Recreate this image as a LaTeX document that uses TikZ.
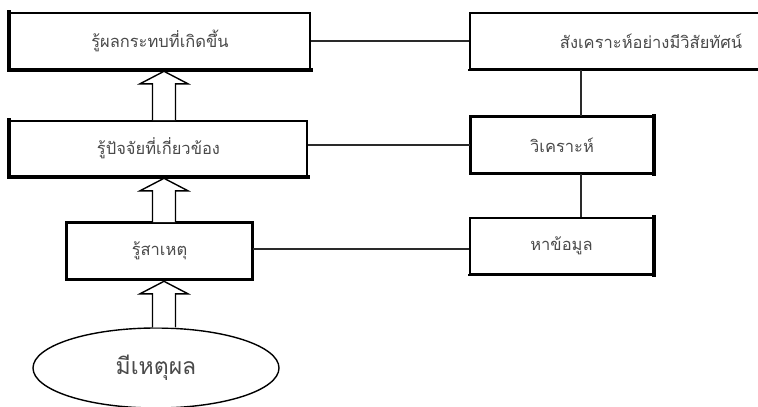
\documentclass[tikz,border=0pt]{standalone}
\usepackage{fontspec}
\newfontfamily\thaifont[Script=Thai]{Loma}
\usetikzlibrary{calc,shapes.geometric}
\definecolor{txt}{HTML}{4a4a4a}
\definecolor{ln}{HTML}{2a2a2a}
\tikzset{
  x=1pt,y=-1pt,
  box/.style={draw=black,line width=1.6pt,fill=white,rectangle,inner sep=0pt,
    text=txt,font=\thaifont\fontsize{16.5}{19}\selectfont},
  thickside/.style={draw=black,line width=3.6pt,line cap=rect},
  link/.style={draw=ln,line width=1.3pt},
  barrow/.style={draw=black,line width=1.4pt,fill=white,line join=miter}
}
\begin{document}
\begin{tikzpicture}
\useasboundingbox (0,0) rectangle (758,407);
\clip (0,0) rectangle (758,407);
\fill[white] (0,0) rectangle (758,407);
% boxes
\node[box,minimum width=300,minimum height=56] (b1) at (160,41) {รู้ผลกระทบที่เกิดขึ้น};
\node[box,minimum width=297,minimum height=55] (b2) at (158.5,148.5) {รู้ปัจจัยที่เกี่ยวข้อง};
\node[box,minimum width=185,minimum height=56] (b3) at (159.5,251) {รู้สาเหตุ};
\node[box,minimum width=362,minimum height=56] (b4) at (651,41) {สังเคราะห์อย่างมีวิสัยทัศน์};
\node[box,minimum width=182,minimum height=56] (b5) at (562,145) {วิเคราะห์};
\node[box,minimum width=183,minimum height=56] (b6) at (561.5,246) {หาข้อมูล};
\node[draw=black,line width=1.4pt,ellipse,minimum width=246,minimum height=80,inner sep=0pt,
  text=txt,font=\thaifont\fontsize{23}{26}\selectfont] (e) at (156,368) {มีเหตุผล};
% thick sides
\draw[thickside] (b1.north west) -- (b1.south west) -- (b1.south east);
\draw[thickside] (b2.north west) -- (b2.south west) -- (b2.south east);
\draw[line width=3pt,line cap=rect] (b3.north west) rectangle (b3.south east);
\draw[line width=2.6pt,line cap=rect] (b4.south west) -- (b4.south east);
\draw[line width=3pt,line cap=rect] (b5.north west) rectangle (b5.south east);
\draw[thickside] (b5.north east) -- (b5.south east);
\draw[thickside] (b6.north east) -- (b6.south east);
\draw[line width=2.4pt,line cap=rect] (b6.south west) -- (b6.south east);
% connectors
\coordinate (vx) at (581,0);
\coordinate (ax) at (164,0);
\coordinate (hy) at (0,249);
\draw[link] (b1.east) -- (b4.west);
\draw[link] (b5.west -| b2.east) -- (b5.west);
\draw[link] (b3.east |- hy) -- (b6.west |- hy);
\draw[link] (b4.south -| vx) -- (b5.north -| vx);
\draw[link] (b5.south -| vx) -- (b6.north -| vx);
% block arrows
\foreach \f/\t in {b2/b1,b3/b2,e/b3}{
  \draw[barrow] ($(ax |- \f.north)+(-11.5,0)$) -- ($(ax |- \t.south)+(-11.5,14)$)
    -- ($(ax |- \t.south)+(-24,14)$) -- ($(ax |- \t.south)+(0,1.5)$)
    -- ($(ax |- \t.south)+(24,14)$) -- ($(ax |- \t.south)+(11.5,14)$)
    -- ($(ax |- \f.north)+(11.5,0)$);
}
\end{tikzpicture}
\end{document}
